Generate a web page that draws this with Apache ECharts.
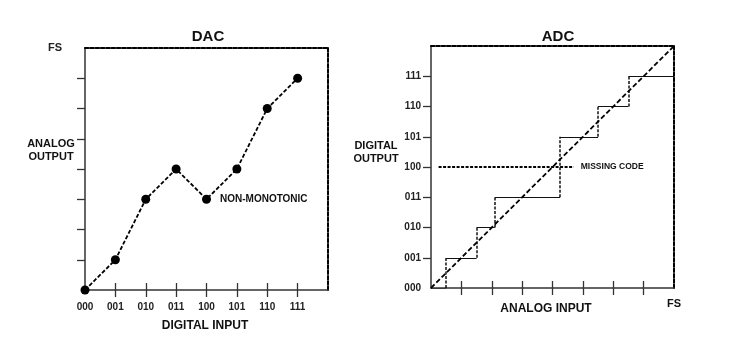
<!DOCTYPE html>
<html>
<head>
<meta charset="utf-8">
<script src="https://cdn.jsdelivr.net/npm/echarts@6/dist/echarts.min.js"></script>
<style>
  html, body { margin: 0; padding: 0; background: #fff; }
  #main { width: 737px; height: 351px; }
</style>
</head>
<body>
<div id="main"></div>
<script>
// DAC: codes along the bottom, analog output in LSB steps (FS = 8)
var dacCodes = ['000', '001', '010', '011', '100', '101', '110', '111'];
var dacOutput = [0, 1, 3, 4, 3, 4, 6, 7];

// ADC: output codes, where each transition happens (analog input, LSB) and the code reached
var adcCodes = ['000', '001', '010', '011', '100', '101', '110', '111'];
var adcEdges = [0.5, 1.5, 2.1, 4.25, 5.5, 6.5];
var adcSteps = [0, 1, 2, 3, 5, 6, 7];
var adcIdeal = [[0, 0], [8, 8]];
var missingLine = [[0.25, 4], [4.7, 4]];

var tickVals = [1, 2, 3, 4, 5, 6, 7];
var font = 'Liberation Sans, Arial, sans-serif';

// treads (solid) and risers (dashed)
var treads = [], risers = [];
for (var i = 0; i < adcSteps.length; i++) {
    var x0 = i == 0 ? 0 : adcEdges[i - 1];
    var x1 = i == adcSteps.length - 1 ? 8 : adcEdges[i];
    treads.push({coords: [[x0, adcSteps[i]], [x1, adcSteps[i]]]});
    if (i < adcEdges.length) {
        risers.push({coords: [[adcEdges[i], adcSteps[i]], [adcEdges[i], adcSteps[i + 1]]]});
    }
}

var myChart = echarts.init(document.getElementById('main'));

var axisLine = {onZero: false, lineStyle: {color: '#333', width: 1.5}};
var borderLine = {show: true, onZero: false, lineStyle: {color: '#000', width: 2, type: [3.5, 1.8]}};
var tickStyle = {lineStyle: {color: '#333', width: 1.3}};

function mainX(grid, labelVals, fmt) {
    return {
        type: 'value', gridIndex: grid, min: 0, max: 8, position: 'bottom',
        axisLine: axisLine,
        axisTick: Object.assign({show: true, length: 7, customValues: tickVals}, tickStyle),
        axisLabel: {show: true, customValues: labelVals, formatter: fmt, margin: 12,
            fontSize: 10, fontWeight: 'bold', color: '#222', fontFamily: font},
        splitLine: {show: false}
    };
}
function innerX(grid) {
    return {
        type: 'value', gridIndex: grid, min: 0, max: 8, position: 'bottom',
        axisLine: {show: false, onZero: false},
        axisTick: Object.assign({show: true, inside: true, length: 7, customValues: tickVals}, tickStyle),
        axisLabel: {show: false}, splitLine: {show: false}
    };
}
function borderAxis(grid, pos) {
    return {
        type: 'value', gridIndex: grid, min: 0, max: 8, position: pos,
        axisLine: borderLine, axisTick: {show: false}, axisLabel: {show: false},
        splitLine: {show: false}
    };
}
function mainY(grid, labelVals, fmt, size, margin) {
    return {
        type: 'value', gridIndex: grid, min: 0, max: 8, position: 'left',
        axisLine: axisLine,
        axisTick: Object.assign({show: true, length: 8, customValues: tickVals}, tickStyle),
        axisLabel: {show: true, customValues: labelVals, formatter: fmt, margin: margin,
            fontSize: size, fontWeight: 'bold', color: '#222', fontFamily: font},
        splitLine: {show: false}
    };
}

function txt(text, left, top, size) {
    return {
        text: text, left: left, top: top, textAlign: 'center',
        textStyle: {fontSize: size, fontWeight: 'bold', color: '#111', fontFamily: font, lineHeight: size + 2}
    };
}

myChart.setOption({
    animation: false,
    title: [
        txt('DAC', 203, 23, 15),
        txt('ADC', 553, 23, 15),
        txt('DIGITAL INPUT', 200, 314, 12),
        txt('ANALOG INPUT', 541, 297, 12),
        txt('ANALOG\nOUTPUT', 46, 132, 11),
        txt('DIGITAL\nOUTPUT', 371, 134, 11)
    ],
    grid: [
        {left: 85, top: 48, width: 243, height: 242},
        {left: 431, top: 46, width: 243, height: 242}
    ],
    xAxis: [
        mainX(0, [0, 1, 2, 3, 4, 5, 6, 7], function(v) { return dacCodes[v]; }),
        innerX(0),
        borderAxis(0, 'top'),
        Object.assign(mainX(1, [8], function() { return 'FS'; }), {
            axisLabel: {show: true, customValues: [8], formatter: function() { return 'FS'; }, margin: 10,
                fontSize: 11, fontWeight: 'bold', color: '#111', fontFamily: font}
        }),
        innerX(1),
        borderAxis(1, 'top')
    ],
    yAxis: [
        mainY(0, [8], function() { return 'FS'; }, 11, 23),
        borderAxis(0, 'right'),
        mainY(1, [0, 1, 2, 3, 4, 5, 6, 7], function(v) { return adcCodes[v]; }, 10, 10),
        borderAxis(1, 'right')
    ],
    series: [
        {
            name: 'DAC', type: 'line', xAxisIndex: 0, yAxisIndex: 0,
            data: dacOutput.map(function(v, i) { return [i, v]; }),
            symbol: 'circle', symbolSize: 9,
            itemStyle: {color: '#000'},
            lineStyle: {color: '#000', width: 1.8, type: [4, 2]},
            label: {
                show: true, position: 'right', distance: 9,
                formatter: function(p) { return p.dataIndex == 4 ? 'NON-MONOTONIC' : ''; },
                fontSize: 10, fontWeight: 'bold', color: '#111', fontFamily: font
            },
            z: 5
        },
        {
            name: 'treads', type: 'lines', coordinateSystem: 'cartesian2d',
            xAxisIndex: 3, yAxisIndex: 2, data: treads,
            lineStyle: {color: '#111', width: 1.2, type: 'solid', opacity: 1}
        },
        {
            name: 'risers', type: 'lines', coordinateSystem: 'cartesian2d',
            xAxisIndex: 3, yAxisIndex: 2, data: risers,
            lineStyle: {color: '#111', width: 1.5, type: [3, 1.5], opacity: 1}
        },
        {
            name: 'missing', type: 'line', xAxisIndex: 3, yAxisIndex: 2,
            data: missingLine, symbol: 'none',
            lineStyle: {color: '#000', width: 1.8, type: [3, 1.5]},
            endLabel: {show: true, formatter: 'MISSING CODE', distance: 7,
                fontSize: 8.5, fontWeight: 'bold', color: '#111', fontFamily: font}
        },
        {
            name: 'ideal', type: 'line', xAxisIndex: 3, yAxisIndex: 2,
            data: adcIdeal, symbol: 'none',
            lineStyle: {color: '#000', width: 1.8, type: [5, 2.5]},
            z: 6
        }
    ]
});
</script>
</body>
</html>
